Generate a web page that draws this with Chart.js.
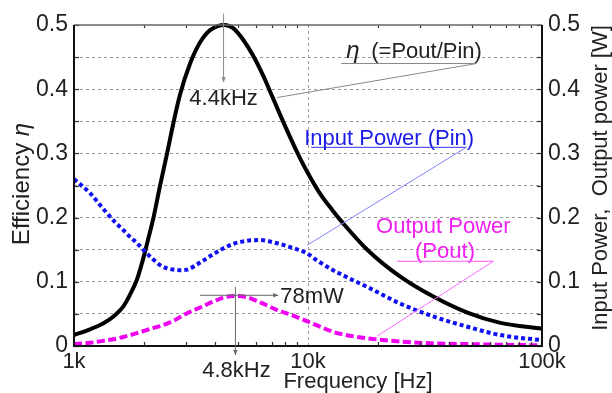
<!DOCTYPE html>
<html><head><meta charset="utf-8">
<script src="https://cdn.jsdelivr.net/npm/chart.js@4.4.1/dist/chart.umd.min.js"></script>
<style>html,body{margin:0;padding:0;background:#fff;overflow:hidden}</style>
</head><body>
<canvas id="c" width="612" height="393"></canvas>
<script>
// ---- data ----
const freqEff = [1000,1171,1331,1497,1620,1736,1860,1934,2012,2093,2177,2333,2499,2651,2841,3134,3459,3817,4400,4787,5283,5832,6434,7029,7605,8393,9262,10219,11276,12817,14141,17916,24800,34320,47970,66400,100000];
const efficiency = [0.017,0.026,0.035,0.048,0.061,0.080,0.104,0.124,0.147,0.172,0.197,0.250,0.300,0.345,0.392,0.440,0.473,0.492,0.500,0.495,0.477,0.452,0.421,0.389,0.360,0.325,0.292,0.263,0.237,0.210,0.191,0.150,0.108,0.077,0.052,0.036,0.027];
const freqPow = [1000,1171,1331,1497,1620,1736,1860,2012,2177,2333,2499,2651,2841,3043,3459,3931,4400,4787,5495,6247,7385,8393,9825,10947,12817,14141,17916,24800,34320,47970,66400,100000];
const inputPower = [0.260,0.238,0.214,0.193,0.181,0.170,0.160,0.147,0.135,0.126,0.121,0.119,0.118,0.119,0.130,0.143,0.153,0.159,0.164,0.165,0.160,0.154,0.145,0.133,0.118,0.110,0.092,0.066,0.046,0.030,0.017,0.009];
const outputPower = [0.003,0.005,0.008,0.011,0.014,0.017,0.020,0.024,0.028,0.031,0.035,0.039,0.045,0.051,0.060,0.069,0.076,0.078,0.076,0.068,0.056,0.049,0.039,0.032,0.022,0.018,0.012,0.007,0.004,0.003,0.002,0.001];
const xTickValues = [1000,10000,100000];
const xTickLabels = ['1k','10k','100k'];
const xMinorTicks = [2000,3000,4000,5000,6000,7000,8000,9000,20000,30000,40000,50000,60000,70000,80000,90000];
const yGridValues = [0,0.05,0.1,0.15,0.2,0.25,0.3,0.35,0.4,0.45,0.5];
const yTickLabels = ['0','','0.1','','0.2','','0.3','','0.4','','0.5'];
const peakEffFreq = 4400, peakEff = 0.5;
const peakPoutFreq = 4800, peakPout = 0.078;

const FONT = "'Liberation Sans', Arial, sans-serif";
Chart.defaults.font.family = FONT;

function pts(xs, ys){ return xs.map((x,i)=>({x:x, y:ys[i]})); }
const transparent = 'rgba(0,0,0,0)';

function arrow(ctx, x1,y1,x2,y2, color, head){
  ctx.save();
  ctx.strokeStyle = color; ctx.fillStyle = color; ctx.lineWidth = 1;
  ctx.beginPath(); ctx.moveTo(x1,y1); ctx.lineTo(x2,y2); ctx.stroke();
  if (head){
    const a = Math.atan2(y2-y1, x2-x1), L = 5, W = 2.2;
    ctx.beginPath();
    ctx.moveTo(x2,y2);
    ctx.lineTo(x2 - L*Math.cos(a) + W*Math.sin(a), y2 - L*Math.sin(a) - W*Math.cos(a));
    ctx.lineTo(x2 - L*Math.cos(a) - W*Math.sin(a), y2 - L*Math.sin(a) + W*Math.cos(a));
    ctx.closePath(); ctx.fill();
  }
  ctx.restore();
}

const extras = {
  id: 'extras',
  afterDatasetsDraw(chart){
    const ctx = chart.ctx, a = chart.chartArea;
    const sx = chart.scales.x, sy = chart.scales.y;
    const X = v => sx.getPixelForValue(v), Y = v => sy.getPixelForValue(v);
    ctx.save();
    // minor ticks (top & bottom), inward
    ctx.strokeStyle = '#333'; ctx.lineWidth = 1.2;
    xMinorTicks.forEach(f => {
      const px = Math.round(X(f)) + 0.5;
      ctx.beginPath(); ctx.moveTo(px, a.top); ctx.lineTo(px, a.top + 3); ctx.stroke();
      ctx.beginPath(); ctx.moveTo(px, a.bottom); ctx.lineTo(px, a.bottom - 4); ctx.stroke();
    });
    // y ticks inward on both sides
    yGridValues.forEach(v => {
      const py = Math.round(Y(v)) + 0.5;
      ctx.beginPath(); ctx.moveTo(a.left, py); ctx.lineTo(a.left + 5, py); ctx.stroke();
      ctx.beginPath(); ctx.moveTo(a.right, py); ctx.lineTo(a.right - 5, py); ctx.stroke();
    });
    // frame
    ctx.strokeStyle = '#666'; ctx.lineWidth = 1.5;
    ctx.beginPath(); ctx.moveTo(a.left, a.top); ctx.lineTo(a.right, a.top); ctx.stroke();
    ctx.strokeStyle = '#111'; ctx.lineWidth = 2;
    ctx.beginPath(); ctx.moveTo(a.left, a.top); ctx.lineTo(a.left, a.bottom); ctx.lineTo(a.right, a.bottom); ctx.lineTo(a.right, a.top); ctx.stroke();

    ctx.textBaseline = 'alphabetic';
    // 4.4kHz peak marker
    arrow(ctx, X(peakEffFreq)-1, Y(0.518), X(peakEffFreq)-1, Y(0.411), '#888', true);
    ctx.font = '22px ' + FONT; ctx.fillStyle = '#222'; ctx.textAlign = 'center';
    ctx.fillText('4.4kHz', X(peakEffFreq)-1, Y(0.375));

    // eta label
    arrow(ctx, X(7385), Y(0.387), X(52420), Y(0.440), '#888', false);
    arrow(ctx, X(13870), Y(0.440), X(52420), Y(0.440), '#888', false);
    ctx.textAlign = 'left';
    ctx.font = 'italic 24px ' + FONT;
    const ex = X(14565), ey = Y(0.449);
    ctx.fillText('η', ex, ey);
    ctx.font = '22px ' + FONT;
    ctx.fillText('(=Pout/Pin)', ex + 25, ey);

    // input power label
    ctx.fillStyle = '#1a1ae6';
    ctx.fillText('Input Power (Pin)', X(9631), Y(0.313));
    arrow(ctx, X(10320), Y(0.3095), X(47500), Y(0.3095), '#3333ee', false);
    arrow(ctx, X(47500), Y(0.3095), X(9922), Y(0.157), '#8080ff', false);

    // output power label
    ctx.fillStyle = '#f020f0'; ctx.textAlign = 'center';
    ctx.fillText('Output Power', X(37870), Y(0.176));
    ctx.fillText('(Pout)', X(38500), Y(0.137));
    arrow(ctx, X(24070), Y(0.132), X(61960), Y(0.132), '#ff55ff', false);
    arrow(ctx, X(61960), Y(0.132), X(19770), Y(0.0156), '#ff66ff', false);

    // 78mW marker
    arrow(ctx, X(3459), Y(peakPout + 0.001), X(7458), Y(peakPout + 0.001), '#666', true);
    ctx.fillStyle = '#222'; ctx.textAlign = 'left';
    ctx.fillText('78mW', X(7605), Y(peakPout - 0.0115));
    arrow(ctx, X(peakPoutFreq)+2, Y(0.092), X(peakPoutFreq)+2, Y(-0.014), '#666', true);
    ctx.textAlign = 'center';
    ctx.fillText('4.8kHz', X(peakPoutFreq)+3, Y(-0.048));

    // axis titles
    ctx.fillText('Frequency [Hz]', 358, 388);
    // left title
    ctx.save();
    ctx.translate(29, 184); ctx.rotate(-Math.PI/2);
    ctx.font = '24px ' + FONT;
    const t1 = 'Efficiency ';
    const w1 = ctx.measureText(t1).width;
    ctx.font = 'italic 24px ' + FONT;
    const w2 = ctx.measureText('η').width;
    const sx0 = -(w1 + w2)/2;
    ctx.textAlign = 'left';
    ctx.font = '24px ' + FONT; ctx.fillText(t1, sx0, 0);
    ctx.font = 'italic 24px ' + FONT; ctx.fillText('η', sx0 + w1, 0);
    ctx.restore();
    // right title
    ctx.save();
    ctx.translate(607, 178); ctx.rotate(-Math.PI/2);
    ctx.font = '22px ' + FONT; ctx.textAlign = 'center';
    ctx.fillText('Input Power,  Output power [W]', 0, 0);
    ctx.restore();
    ctx.restore();
  }
};

const yTickCb = (v, i) => yTickLabels[i] !== undefined ? yTickLabels[i] : '';

new Chart(document.getElementById('c'), {
  type: 'line',
  data: {
    datasets: [
      { label: 'Input Power (Pin)', data: pts(freqPow, inputPower), yAxisID: 'y2',
        borderColor: '#0f0ff5', borderWidth: 4, borderDash: [4,3], pointRadius: 0,
        cubicInterpolationMode: 'monotone', fill: false, borderCapStyle: 'butt' },
      { label: 'Output Power (Pout)', data: pts(freqPow, outputPower), yAxisID: 'y2',
        borderColor: '#f000f0', borderWidth: 4, borderDash: [8,3.5], pointRadius: 0,
        cubicInterpolationMode: 'monotone', fill: false, borderCapStyle: 'butt' },
      { label: 'η', data: pts(freqEff, efficiency), yAxisID: 'y',
        borderColor: '#000', borderWidth: 4, pointRadius: 0, clip: false,
        cubicInterpolationMode: 'monotone', fill: false }
    ]
  },
  options: {
    responsive: false, animation: false, devicePixelRatio: 1,
    layout: { padding: { top: 25, left: 0, right: 0, bottom: 0 } },
    plugins: { legend: { display: false }, tooltip: { enabled: false } },
    scales: {
      x: {
        type: 'logarithmic', min: 1000, max: 100000, position: 'bottom',
        afterBuildTicks: s => { s.ticks = xTickValues.map(v => ({ value: v })); },
        afterFit: s => { s.height = 47; },
        ticks: { callback: (v, i) => xTickLabels[i] || '', font: { size: 22 }, color: '#222',
                 padding: 3, maxRotation: 0, autoSkip: false },
        grid: { drawTicks: false, lineWidth: 1,
                color: c => (c.tick && c.tick.value === 10000) ? '#9a9a9a' : transparent },
        border: { display: false, dash: [3,3] }
      },
      y: {
        position: 'left', min: 0, max: 0.5,
        afterBuildTicks: s => { s.ticks = yGridValues.map(v => ({ value: v })); },
        afterFit: s => { s.width = 74; },
        ticks: { callback: yTickCb, font: { size: 23 }, color: '#222', padding: 6, autoSkip: false },
        grid: { drawTicks: false, lineWidth: 1,
                color: c => (c.tick && c.tick.value > 0.001 && c.tick.value < 0.499) ? '#9a9a9a' : transparent },
        border: { display: false, dash: [3,3] }
      },
      y2: {
        position: 'right', min: 0, max: 0.5,
        afterBuildTicks: s => { s.ticks = yGridValues.map(v => ({ value: v })); },
        afterFit: s => { s.width = 70; },
        ticks: { callback: yTickCb, font: { size: 23 }, color: '#222', padding: 6, autoSkip: false },
        grid: { drawOnChartArea: false, drawTicks: false },
        border: { display: false }
      }
    }
  },
  plugins: [extras]
});
</script>
</body></html>
